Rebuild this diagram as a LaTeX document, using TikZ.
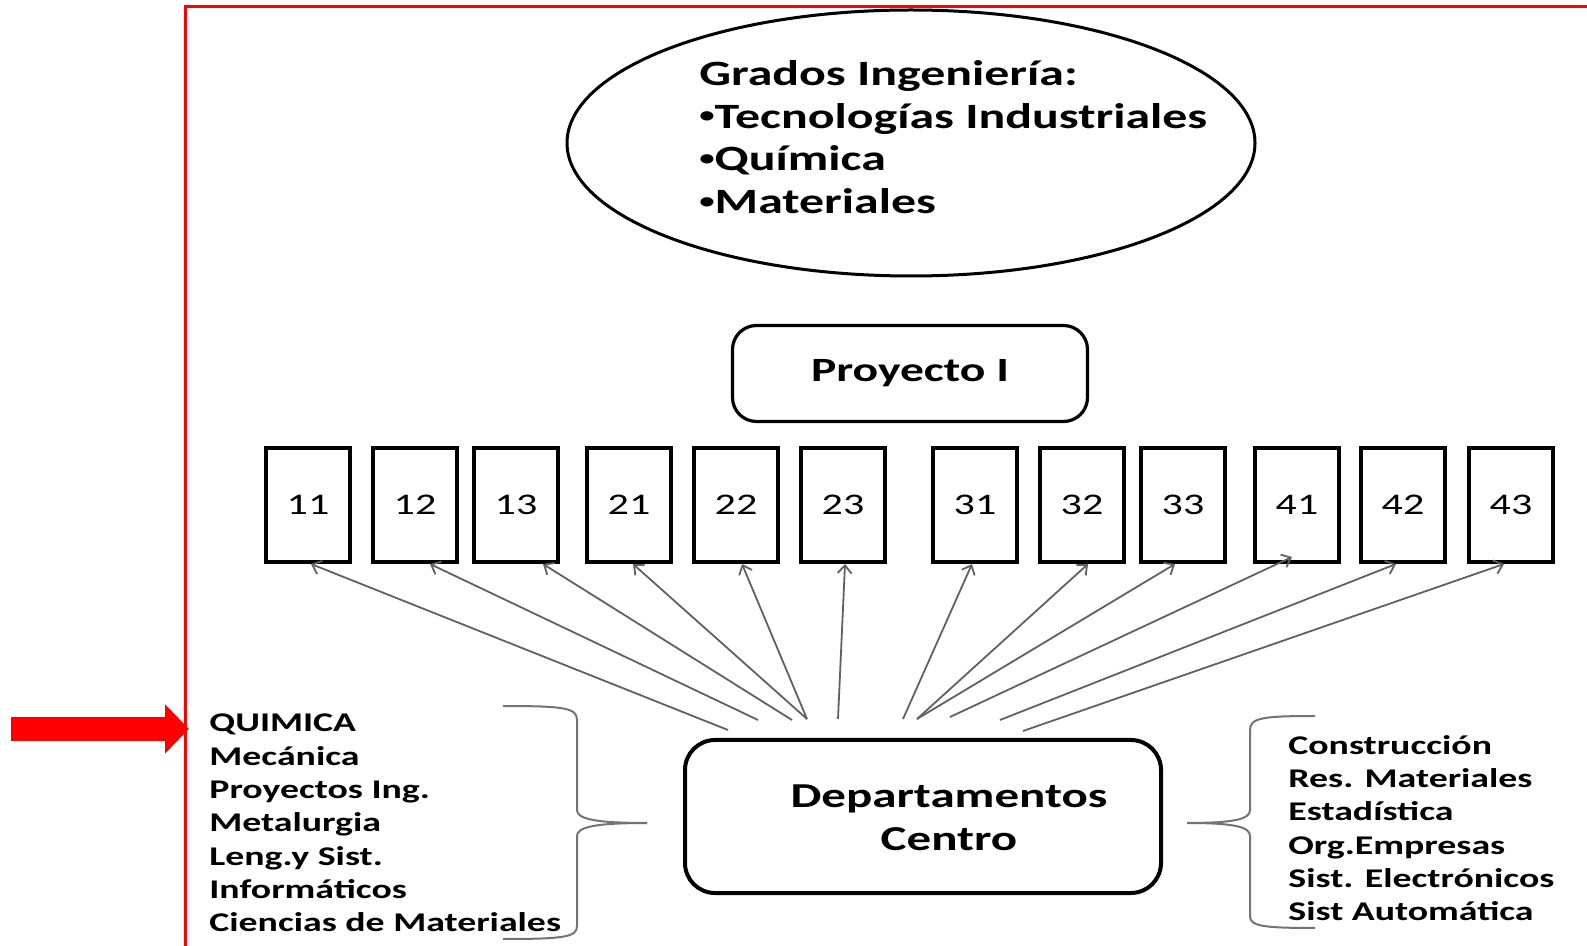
\documentclass[tikz,border=0pt]{standalone}
\usepackage{fontspec}
\setmainfont{Carlito}[FakeStretch=1.4]
\usetikzlibrary{shapes.geometric, positioning, arrows.meta}
\newcommand{\pto}{\raisebox{0.3ex}{\fontsize{11}{11}\selectfont•}}
\tikzset{>={Straight Barb[length=4pt,width=7pt]},
         numbox/.style={draw, line width=2pt, minimum width=42pt, minimum height=57pt,
                        inner sep=0pt, font=\fontsize{15}{18}\selectfont},
         roundbox/.style={draw, line width=1.6pt, rounded corners=12pt, inner sep=0pt},
         link/.style={->, draw=black!62, line width=0.9pt},
         bracket/.style={draw=black!55, line width=1pt},
         listtext/.style={align=left, anchor=west, inner sep=0pt,
                          font=\fontsize{13.5}{16.65}\selectfont\bfseries},
         pointer/.style={red, line width=12pt, -{Triangle[length=12pt,width=24pt]}},
         }

\begin{document}
\begin{tikzpicture}[x=0.5pt, y=-0.5pt]
    \useasboundingbox (0,0) rectangle (1587,946);
    % marco y flecha roja
    \draw[red, line width=1.5pt] (185,946) -- (185,7) -- (1587,7);
    \coordinate (ptail) at (11,729);
    \coordinate (ptip) at (189,729);
    \draw[pointer] (ptail) -- (ptip);

    \node[ellipse, draw, line width=1.5pt, minimum width=344pt, minimum height=133pt] (grados) at (911,143) {};
    \node[align=left, anchor=west, inner sep=0pt, font=\fontsize{17.8}{21.35}\selectfont\bfseries] (gradostxt) at (699,137)
        {Grados Ingeniería:\\\pto Tecnologías Industriales\\\pto Química\\\pto Materiales};
    \node[roundbox, minimum width=177.5pt, minimum height=48pt, font=\fontsize{17}{20}\selectfont\bfseries] (proy) at (910,373.5) {Proyecto I};

    \node[numbox] (b11) at (308,505) {11};
    \node[numbox] (b12) at (415,505) {12};
    \node[numbox] (b13) at (516,505) {13};
    \node[numbox] (b21) at (629,505) {21};
    \node[numbox] (b22) at (736,505) {22};
    \node[numbox] (b23) at (843,505) {23};
    \node[numbox] (b31) at (975,505) {31};
    \node[numbox] (b32) at (1082,505) {32};
    \node[numbox] (b33) at (1183,505) {33};
    \node[numbox] (b41) at (1297,505) {41};
    \node[numbox] (b42) at (1403,505) {42};
    \node[numbox] (b43) at (1511,505) {43};

    \node[roundbox, line width=2pt, rounded corners=15pt, minimum width=238pt, minimum height=76.5pt] (dep) at (923,816.5) {};
    \node[align=center, inner sep=0pt, font=\fontsize{17.5}{21.5}\selectfont\bfseries] (deptxt) at (949,818) {Departamentos\\Centro};

    % salidas sobre el departamento
    \coordinate (d1) at (728,730);
    \coordinate (d2) at (758,720);
    \coordinate (d3) at (792,720);
    \coordinate (d4) at (807,719);
    \coordinate (d5) at (838,719);
    \coordinate (d6) at (903,719);
    \coordinate (d7) at (917,719);
    \coordinate (d8) at (950,717);
    \coordinate (d9) at (1000,720);
    \coordinate (d10) at (1023,731);

    \path (d1) edge[link] ([xshift=1.5pt]b11.south)
          (d2) edge[link] ([xshift=7.5pt]b12.south)
          (d3) edge[link] ([xshift=13.5pt]b13.south)
          (d4) edge[link] ([xshift=2pt]b21.south)
          (d4) edge[link] ([xshift=3pt]b22.south)
          (d5) edge[link] ([xshift=1pt]b23.south)
          (d6) edge[link] ([xshift=-1.5pt]b31.south)
          (d7) edge[link] ([xshift=3pt]b32.south)
          (d7) edge[link] ([xshift=-4pt]b33.south)
          (d8) edge[link] ([xshift=-2.5pt, yshift=3.5pt]b41.south)
          (d9) edge[link] ([xshift=-3.5pt]b42.south)
          (d10) edge[link] ([xshift=-3.5pt]b43.south);

    % llaves
    \draw[bracket] (503,706) .. controls (565,706) and (577,708) .. (577,720) -- (577,810)
        .. controls (577,819) and (595,823) .. (647,823);
    \draw[bracket] (647,823) .. controls (595,823) and (577,827) .. (577,836) -- (577,926)
        .. controls (577,937) and (565,939) .. (503,939);
    \draw[bracket] (1315,716) .. controls (1262,716) and (1250,718) .. (1250,730) -- (1250,810)
        .. controls (1250,819) and (1235,823) .. (1187,823);
    \draw[bracket] (1187,823) .. controls (1235,823) and (1250,827) .. (1250,836) -- (1250,916)
        .. controls (1250,926) and (1262,928) .. (1315,928);

    \node[listtext] (deptizq) at (209,823)
        {QUIMICA\\Mecánica\\Proyectos Ing.\\Metalurgia\\Leng.y Sist.\\Informáticos\\Ciencias de Materiales};
    \node[listtext] (deptder) at (1288,828)
        {Construcción\\Res. Materiales\\Estadística\\Org.Empresas\\Sist. Electrónicos\\Sist Automática};
\end{tikzpicture}
\end{document}
